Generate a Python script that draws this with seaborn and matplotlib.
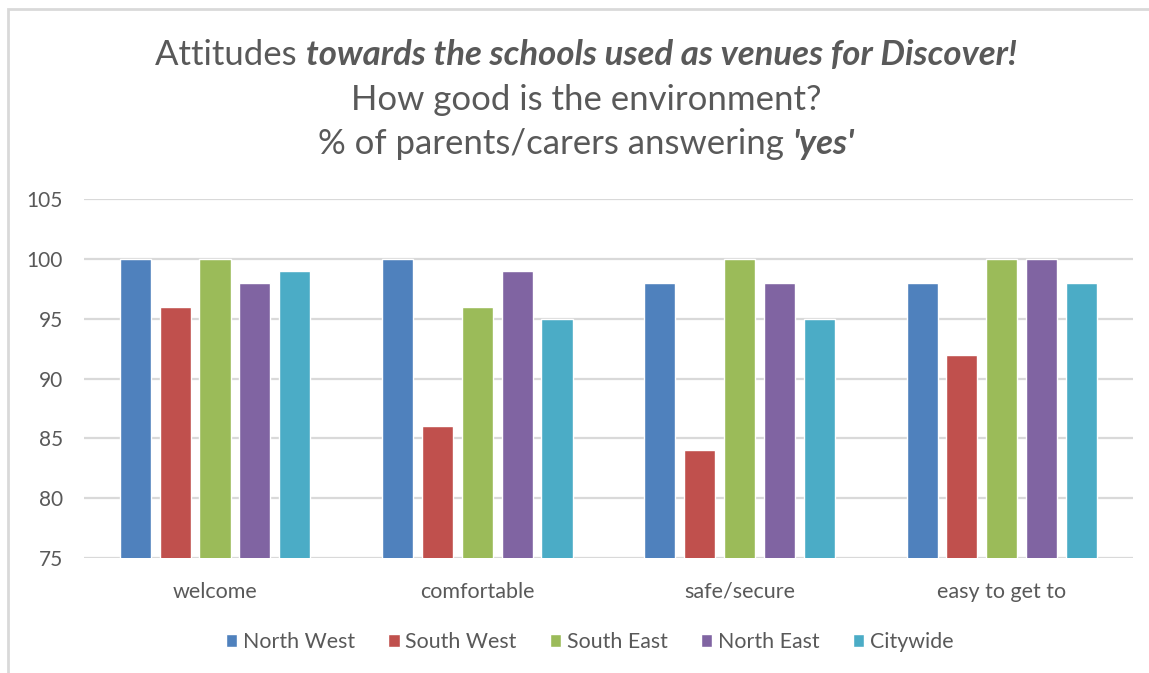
import matplotlib
matplotlib.use("Agg")
import matplotlib.pyplot as plt
from matplotlib.patches import Rectangle
import seaborn as sns
import pandas as pd

categories = ["welcome", "comfortable", "safe/secure", "easy to get to"]
regions = ["North West", "South West", "South East", "North East", "Citywide"]
north_west = [100, 100, 98, 98]
south_west = [96, 86, 84, 92]
south_east = [100, 96, 100, 100]
north_east = [98, 99, 98, 100]
citywide = [99, 95, 95, 98]
yticks = [75, 80, 85, 90, 95, 100, 105]

colors = ["#4F81BD", "#C0504D", "#9BBB59", "#8064A2", "#4BACC6"]
text_color = "#595959"
grid_color = "#D9D9D9"

series = [north_west, south_west, south_east, north_east, citywide]
rows = []
for region, values in zip(regions, series):
    for cat, v in zip(categories, values):
        rows.append({"category": cat, "region": region, "value": v})
df = pd.DataFrame(rows)

sns.set_theme(style="white")
plt.rcParams["font.family"] = ["Lato", "DejaVu Sans"]

fig = plt.figure(figsize=(11.49, 6.73), dpi=100)
ax = fig.add_axes([0.073, 0.171, 0.913, 0.533])

sns.barplot(data=df, x="category", y="value", hue="region", order=categories,
            hue_order=regions, palette=colors, width=0.76, gap=0.22,
            saturation=1, ax=ax, legend=True)

ax.set_ylim(75, 105)
ax.set_yticks(yticks)
ax.yaxis.grid(True, color=grid_color, linewidth=1.6)
ax.set_axisbelow(True)
for s in ax.spines.values():
    s.set_visible(False)
ax.set_xlabel("")
ax.set_ylabel("")
ax.tick_params(axis="both", length=0, colors=text_color)
ax.tick_params(axis="x", pad=17, labelsize=15.5)
ax.tick_params(axis="y", pad=15, labelsize=15)

handles, labels = ax.get_legend_handles_labels()
ax.get_legend().remove()
fig.legend(handles, labels, loc="center", bbox_to_anchor=(0.513, 0.046), ncol=5,
           frameon=False, fontsize=15.4, handlelength=0.55, handleheight=0.55,
           handletextpad=0.25, columnspacing=1.55, labelcolor=text_color)

# frame around the chart area
fig.patches.append(Rectangle((8 / 1149, -0.05), 1.2, 0.05 + (673 - 9) / 673,
                             transform=fig.transFigure, fill=False,
                             edgecolor="#D9D9D9", linewidth=2))

# title lines with mixed styles
renderer = fig.canvas.get_renderer()
title_lines = [
    (55, [("Attitudes ", "normal", "normal"),
          ("towards the schools used as venues for Discover!", "italic", "bold")]),
    (100, [("How good is the environment?", "normal", "normal")]),
    (144, [("% of parents/carers answering ", "normal", "normal"),
           ("'yes'", "italic", "bold")]),
]
title_size = 25
for ypix, parts in title_lines:
    y = 1 - ypix / 673
    texts = []
    for s, style, weight in parts:
        t = fig.text(0, y, s, fontsize=title_size, style=style, weight=weight,
                     color=text_color, va="center", ha="left")
        texts.append(t)
    widths = [t.get_window_extent(renderer).width for t in texts]
    total = sum(widths)
    x = 586 - total / 2
    for t, w in zip(texts, widths):
        t.set_x(x / 1149)
        x += w

fig.savefig("out.png", dpi=100, facecolor="white")
